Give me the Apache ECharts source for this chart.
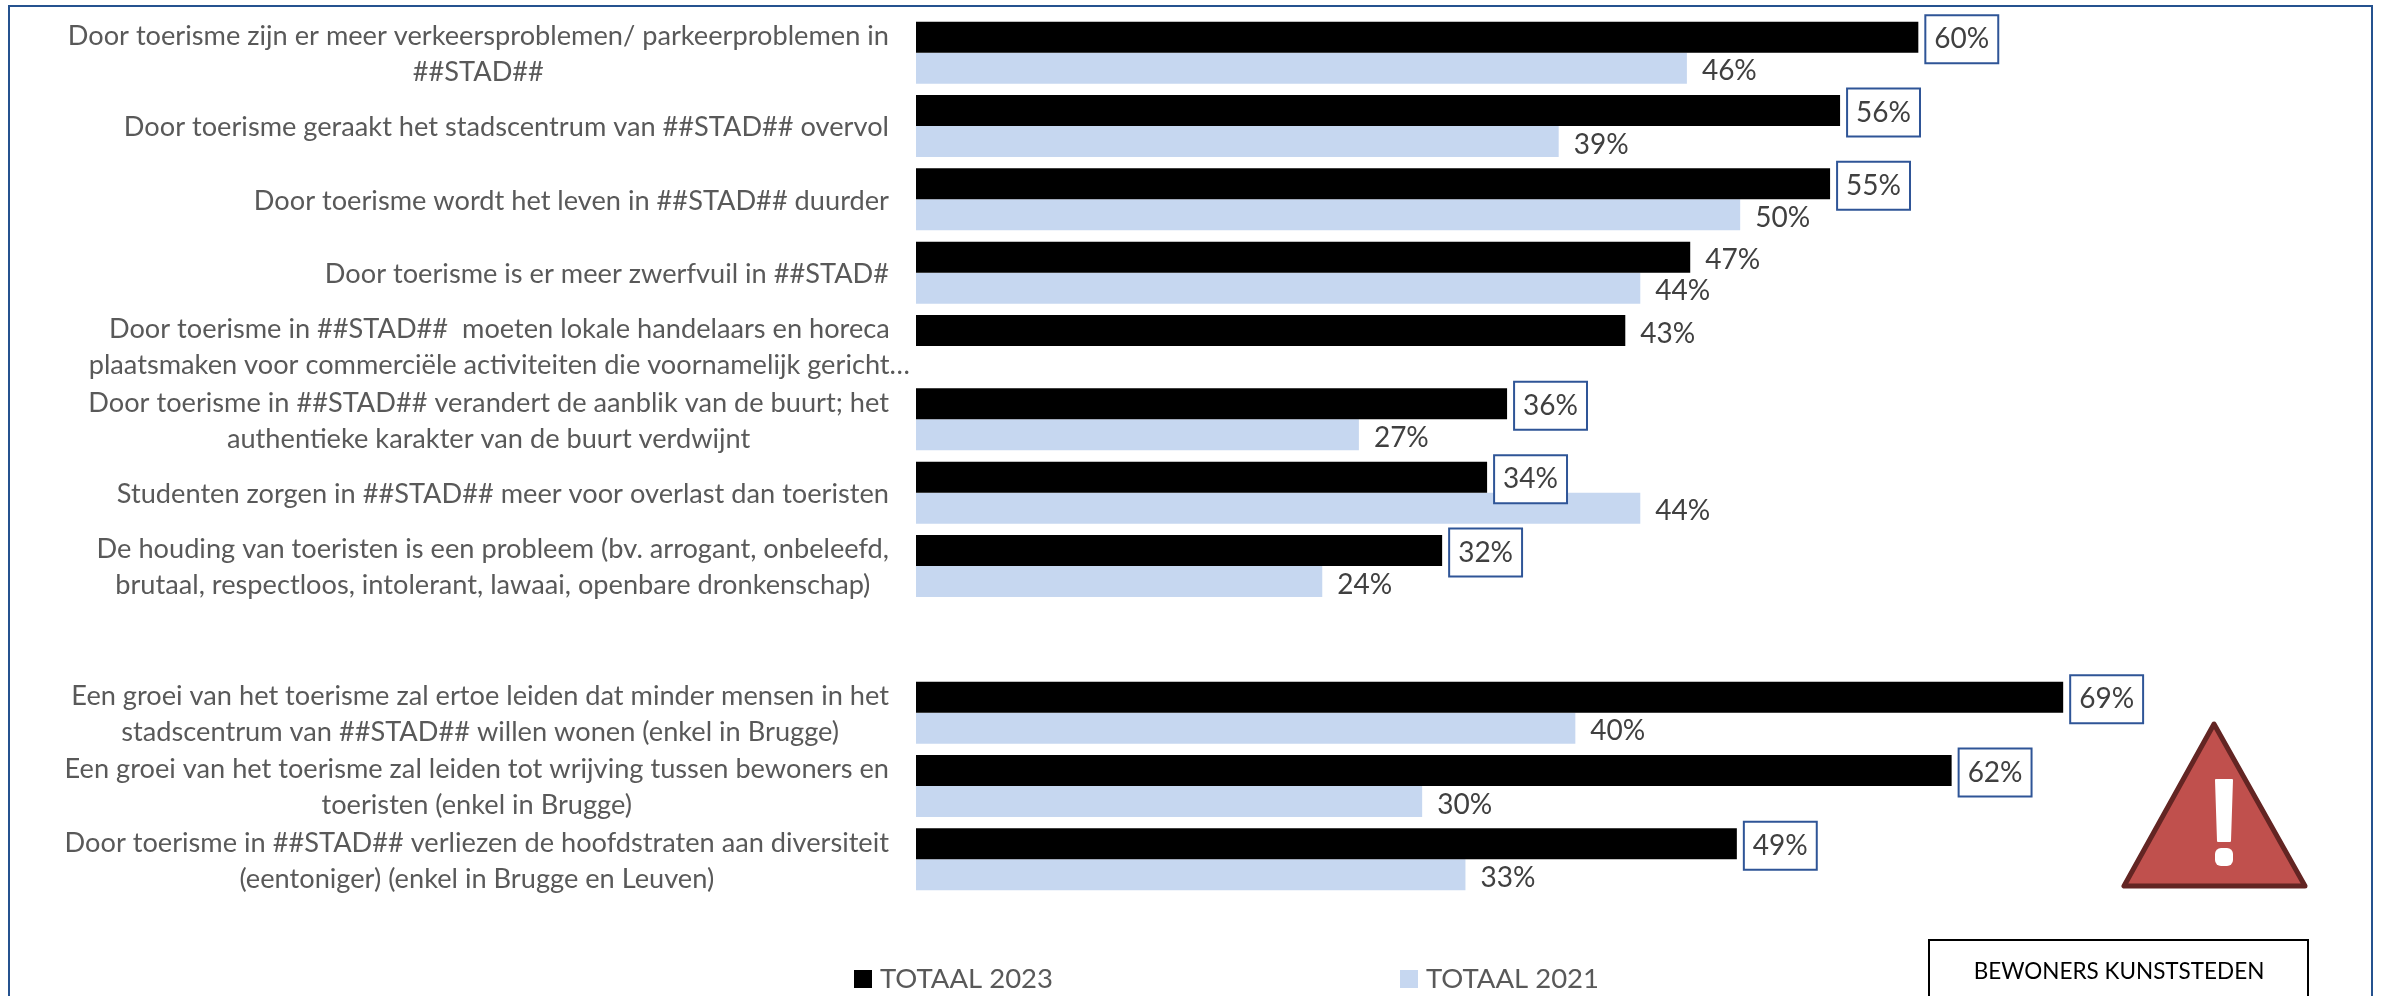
<!DOCTYPE html>
<html><head><meta charset="utf-8">
<style>html,body{margin:0;padding:0;background:#fff}#c{width:2381px;height:996px}</style>
<script src="https://cdn.jsdelivr.net/npm/echarts@6/dist/echarts.min.js"></script>
</head><body><div id="c"></div>
<script>
const categories = [
 "Door toerisme zijn er meer verkeersproblemen/ parkeerproblemen in\n##STAD##",
 "Door toerisme geraakt het stadscentrum van ##STAD## overvol",
 "Door toerisme wordt het leven in ##STAD## duurder",
 "Door toerisme is er meer zwerfvuil in ##STAD#",
 "Door toerisme in ##STAD##  moeten lokale handelaars en horeca\nplaatsmaken voor commerciële activiteiten die voornamelijk gericht…",
 "Door toerisme in ##STAD## verandert de aanblik van de buurt; het\nauthentieke karakter van de buurt verdwijnt",
 "Studenten zorgen in ##STAD## meer voor overlast dan toeristen",
 "De houding van toeristen is een probleem (bv. arrogant, onbeleefd,\nbrutaal, respectloos, intolerant, lawaai, openbare dronkenschap)",
 "",
 "Een groei van het toerisme zal ertoe leiden dat minder mensen in het\nstadscentrum van ##STAD## willen wonen (enkel in Brugge)",
 "Een groei van het toerisme zal leiden tot wrijving tussen bewoners en\ntoeristen (enkel in Brugge)",
 "Door toerisme in ##STAD## verliezen de hoofdstraten aan diversiteit\n(eentoniger) (enkel in Brugge en Leuven)"
];
const totaal2023 = [60.2,55.5,54.9,46.5,42.6,35.5,34.3,31.6,null,68.9,62.2,49.3];
const totaal2021 = [46.3,38.6,49.5,43.5,null,26.6,43.5,24.4,null,39.6,30.4,33.0];
const unboxedRows2023 = [3,4];
const seriesNames = ["TOTAAL 2023","TOTAAL 2021"];
const noteText = "BEWONERS KUNSTSTEDEN";

const FONT = "Lato";
const chart = echarts.init(document.getElementById('c'), null, {renderer:'canvas'});
const pct = p => Math.round(p.value)+'%';
const plain = {show:true, position:'right', distance:15, offset:[0,3], color:'#404040', fontFamily:FONT, fontSize:28, formatter:pct};
const boxed = Object.assign({}, plain, {distance:8, offset:[0,2], backgroundColor:'#fff', borderColor:'#2f5597', borderWidth:2, padding:[10,8,8,8]});
chart.setOption({
  animation:false,
  backgroundColor:'#fff',
  grid:{left:916, top:16, width:1332, height:880, containLabel:false},
  xAxis:{type:'value', min:0, max:80, show:false},
  yAxis:{type:'category', inverse:true, data:categories,
    axisLine:{show:false}, axisTick:{show:false},
    axisLabel:{interval:0, margin:6, align:'right', color:'#595959', fontFamily:FONT, fontSize:27, padding:[3,0,0,0],
      formatter:(v,i)=>{
        const tag = i===4 ? 'w' : 'c';
        return v.split('\n').map(l=>`{${tag}|${l}}`).join('\n');
      },
      rich:{
        c:{align:'center', color:'#595959', fontFamily:FONT, fontSize:27.2, lineHeight:36, padding:[0,21,0,0]},
        w:{align:'center', color:'#595959', fontFamily:FONT, fontSize:27.2, lineHeight:36}
      }}
  },
  legend:{left:854, top:965, padding:0, icon:'rect', itemWidth:18, itemHeight:18, itemGap:347, data:seriesNames,
    textStyle:{color:'#595959', fontFamily:FONT, fontSize:27.5, padding:[0,0,0,3]}},
  series:[
    {name:seriesNames[0], type:'bar', barWidth:31, barGap:'0%', itemStyle:{color:'#000'},
     data:totaal2023.map((v,i)=>({value:v, label: unboxedRows2023.includes(i)?plain:boxed})), z:3},
    {name:seriesNames[1], type:'bar', barWidth:31, barGap:'0%', itemStyle:{color:'#c6d7f0'},
     label:plain, data:totaal2021, z:2}
  ],
  graphic:[
    {type:'rect', silent:true, z:-1, shape:{x:9,y:6,width:2363,height:1100}, style:{fill:'none',stroke:'#25528f',lineWidth:2}},
    {type:'polygon', silent:true, shape:{points:[[2214,724],[2124,886],[2305,886]]}, style:{fill:'#c0504d',stroke:'#632523',lineWidth:5,lineJoin:'round'}},
    {type:'polygon', silent:true, shape:{points:[[2216,780],[2232,780],[2230,841],[2218,841]]}, style:{fill:'#fff',stroke:'#fff',lineWidth:2,lineJoin:'round'}},
    {type:'rect', silent:true, shape:{x:2215,y:848,width:18,height:18,r:6}, style:{fill:'#fff'}},
    {type:'rect', silent:true, shape:{x:1929,y:940,width:379,height:100}, style:{fill:'#fff',stroke:'#000',lineWidth:2}},
    {type:'text', silent:true, x:2119, y:972, style:{text:noteText, font:'22.5px Lato', fill:'#000', textAlign:'center', textVerticalAlign:'middle'}}
  ]
});
</script></body></html>
